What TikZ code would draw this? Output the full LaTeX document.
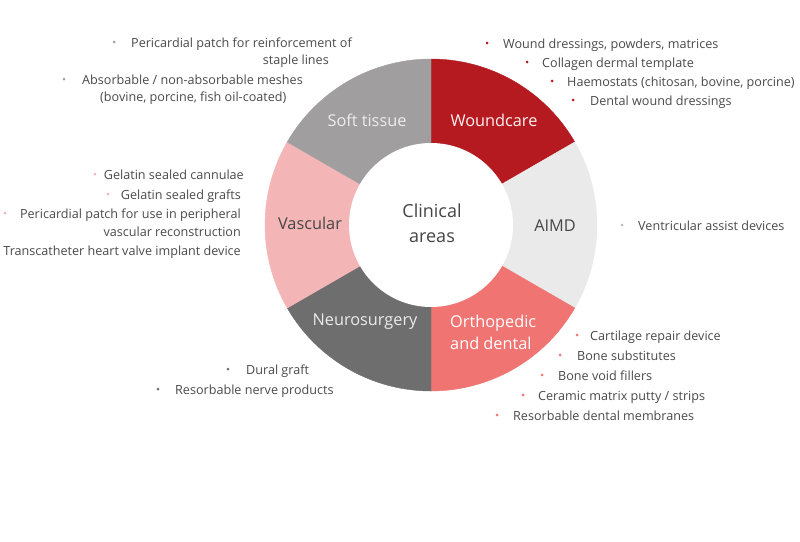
\documentclass[tikz,border=0pt]{standalone}
\usepackage{fontspec}
\setmainfont{Open Sans}
\definecolor{cwc}{HTML}{B41A1F}
\definecolor{caimd}{HTML}{EAEAEA}
\definecolor{cortho}{HTML}{EF7472}
\definecolor{cneuro}{HTML}{6E6E6E}
\definecolor{cvasc}{HTML}{F4B5B7}
\definecolor{csoft}{HTML}{A09E9F}
\definecolor{txt}{HTML}{4A4A4A}
\definecolor{dtxt}{HTML}{454545}
\begin{document}
\begin{tikzpicture}[x=1pt,y=-1pt,
  lt/.style={anchor=mid west, inner sep=0, yshift=-3pt, text=txt, font=\fontsize{12.6}{14}\selectfont},
  rt/.style={anchor=mid east, inner sep=0, yshift=-3pt, text=txt, font=\fontsize{12.6}{14}\selectfont},
  bul/.style={circle, fill=#1, inner sep=0, minimum size=3pt},
  seglab/.style={anchor=mid, inner sep=0, yshift=-3.5pt, font=\fontsize{16.3}{19}\selectfont},
  seglabw/.style={anchor=mid west, inner sep=0, yshift=-3.5pt, font=\fontsize{16.3}{19}\selectfont},
  cenlab/.style={anchor=mid, inner sep=0, yshift=-3.5pt, text=dtxt, font=\fontsize{18}{21}\selectfont},
  sector/.style={fill=#1, draw=#1, line width=0.4pt}]
\useasboundingbox (0,0) rectangle (800,541);
\fill[white] (0,0) rectangle (800,541);
% donut sectors
\coordinate (C) at (431,225);
\path[sector=cwc] (C) -- plot[domain=-90:-30, samples=40] ({431+166*cos(\x)},{225+166*sin(\x)}) -- cycle;
\path[sector=caimd] (C) -- plot[domain=-30:30, samples=40] ({431+166*cos(\x)},{225+166*sin(\x)}) -- cycle;
\path[sector=cortho] (C) -- plot[domain=30:90, samples=40] ({431+166*cos(\x)},{225+166*sin(\x)}) -- cycle;
\path[sector=cneuro] (C) -- plot[domain=90:150, samples=40] ({431+166*cos(\x)},{225+166*sin(\x)}) -- cycle;
\path[sector=cvasc] (C) -- plot[domain=150:210, samples=40] ({431+166*cos(\x)},{225+166*sin(\x)}) -- cycle;
\path[sector=csoft] (C) -- plot[domain=210:270, samples=40] ({431+166*cos(\x)},{225+166*sin(\x)}) -- cycle;
\fill[white] (C) circle (82);
% center
\node[cenlab] (c1) at (432,211) {Clinical};
\node[cenlab] (c2) at (432,236) {areas};
% segment labels
\node[seglab, text=white!93!black] (lsoft) at (367,120) {Soft tissue};
\node[seglab, text=white!95!red] (lwound) at (494,120) {Woundcare};
\node[seglab, text=dtxt] (lvasc) at (310,223) {Vascular};
\node[seglab, text=dtxt] (laimd) at (555,225) {AIMD};
\node[seglab, text=white!92!black] (lneuro) at (365,319) {Neurosurgery};
\node[seglabw, text=white] (lortho1) at (450,321) {Orthopedic};
\node[seglabw, text=white] (lortho2) at (450,343) {and dental};
% soft tissue list
\node[bul=csoft] (bs1) at (114,42) {};
\node[lt] (s1) at (131,42) {Pericardial patch for reinforcement of};
\node[rt] (s1b) at (329,59) {staple lines};
\node[bul=csoft] (bs2) at (64,79) {};
\node[lt] (s2) at (82,79) {Absorbable / non-absorbable meshes};
\node[lt] (s2b) at (100,96) {(bovine, porcine, fish oil-coated)};
% woundcare list
\node[bul=cwc] (bw1) at (487,43) {};
\node[lt] (w1) at (503,43) {Wound dressings, powders, matrices};
\node[bul=cwc] (bw2) at (527,62) {};
\node[lt] (w2) at (542,62) {Collagen dermal template};
\node[bul=cwc] (bw3) at (552,81) {};
\node[lt] (w3) at (567,81) {Haemostats (chitosan, bovine, porcine)};
\node[bul=cwc] (bw4) at (573,100) {};
\node[lt] (w4) at (590,100) {Dental wound dressings};
% vascular list
\node[bul=cvasc] (bv1) at (95,174) {};
\node[rt] (v1) at (244,174) {Gelatin sealed cannulae};
\node[bul=cvasc] (bv2) at (108,194) {};
\node[rt] (v2) at (241,194) {Gelatin sealed grafts};
\node[bul=cvasc] (bv3) at (5,213) {};
\node[rt] (v3) at (241,213) {Pericardial patch for use in peripheral};
\node[rt] (v3b) at (241,231) {vascular reconstruction};
\node[rt] (v4) at (241,250) {Transcatheter heart valve implant device};
% AIMD list
\node[bul=caimd!80!black] (ba1) at (622,225) {};
\node[lt] (a1) at (638,225) {Ventricular assist devices};
% orthopedic list
\node[bul=cortho] (bo1) at (577,335) {};
\node[lt] (o1) at (590,335) {Cartilage repair device};
\node[bul=cortho] (bo2) at (560,355) {};
\node[lt] (o2) at (577,355) {Bone substitutes};
\node[bul=cortho] (bo3) at (542,375) {};
\node[lt] (o3) at (558,375) {Bone void fillers};
\node[bul=cortho] (bo4) at (523,395) {};
\node[lt] (o4) at (538,395) {Ceramic matrix putty / strips};
\node[bul=cortho] (bo5) at (497,415) {};
\node[lt] (o5) at (513,415) {Resorbable dental membranes};
% neurosurgery list
\node[bul=cneuro] (bn1) at (228,369) {};
\node[lt] (n1) at (246,369) {Dural graft};
\node[bul=cneuro] (bn2) at (158,389) {};
\node[lt] (n2) at (175,389) {Resorbable nerve products};
\end{tikzpicture}
\end{document}
